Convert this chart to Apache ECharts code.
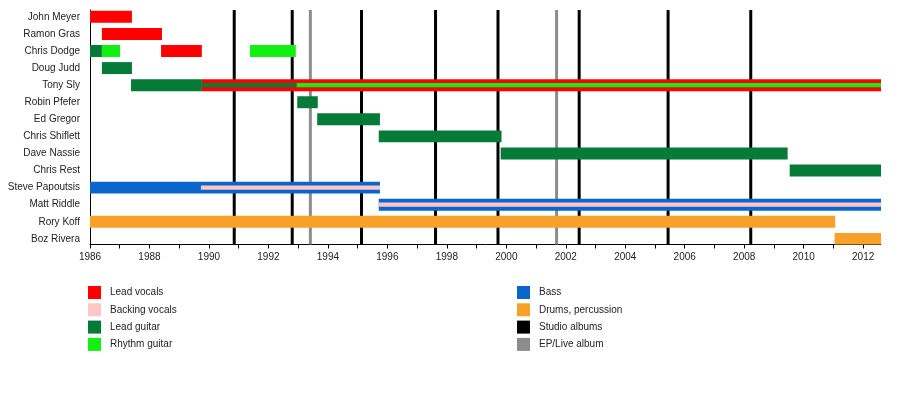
<!DOCTYPE html>
<html><head><meta charset="utf-8">
<script src="https://cdn.jsdelivr.net/npm/echarts@6/dist/echarts.min.js"></script>
<style>html,body{margin:0;padding:0;background:#fff}#c{width:900px;height:394px}</style>
</head><body><div id="c"></div><script>
const members = ['John Meyer','Ramon Gras','Chris Dodge','Doug Judd','Tony Sly','Robin Pfefer','Ed Gregor','Chris Shiflett','Dave Nassie','Chris Rest','Steve Papoutsis','Matt Riddle','Rory Koff','Boz Rivera'];
const leadVocals = [
  ['John Meyer',1986.0,1987.41],
  ['Ramon Gras',1986.40,1988.42],
  ['Chris Dodge',1988.39,1989.76],
  ['Tony Sly',1989.75,2012.6]
];
const backingVocalsStripe = [
  ['Steve Papoutsis',1989.73,1995.75],
  ['Matt Riddle',1995.71,2012.6]
];
const leadGuitar = [
  ['Chris Dodge',1986.0,1986.40],
  ['Doug Judd',1986.40,1987.41],
  ['Tony Sly',1987.38,1989.76],
  ['Robin Pfefer',1992.97,1993.66],
  ['Ed Gregor',1993.64,1995.75],
  ['Chris Shiflett',1995.71,1999.84],
  ['Dave Nassie',1999.81,2009.46],
  ['Chris Rest',2009.53,2012.6]
];
const leadGuitarStripe = [['Tony Sly',1989.75,1992.95]];
const rhythmGuitar = [
  ['Chris Dodge',1986.40,1987.01],
  ['Chris Dodge',1991.38,1992.92]
];
const rhythmGuitarStripe = [['Tony Sly',1992.95,2012.6]];
const bass = [
  ['Steve Papoutsis',1986.0,1995.75],
  ['Matt Riddle',1995.71,2012.6]
];
const drums = [
  ['Rory Koff',1986.0,2011.06],
  ['Boz Rivera',2011.04,2012.6]
];
const studioAlbums = [1990.85,1992.80,1995.13,1997.62,1999.72,2002.45,2005.44,2008.22];
const epLiveAlbums = [1993.41,2001.69];
const yearTicks = [1986,1987,1988,1989,1990,1991,1992,1993,1994,1995,1996,1997,1998,1999,2000,2001,2002,2003,2004,2005,2006,2007,2008,2009,2010,2011,2012];
const yearLabels = [1986,1988,1990,1992,1994,1996,1998,2000,2002,2004,2006,2008,2010,2012];
const rowTicks = [0,1,2,3,4,5,6,7,8,9,10,11,12,13];

const FONT = '"Liberation Sans", Arial, sans-serif';
const COLORS = {
  'Lead vocals':'#ff0000','Backing vocals':'#ffc6c6','Lead guitar':'#067a37','Rhythm guitar':'#12f012',
  'Bass':'#0a66cc','Drums, percussion':'#f8a12a','Studio albums':'#000000','EP/Live album':'#8c8c8c'
};
const toRows = arr => arr.map(d => [members.indexOf(d[0]), d[1], d[2]]);

function barRenderer(frac){
  return function(params, api){
    const row = api.value(0), s = api.value(1), e = api.value(2);
    const p0 = api.coord([s,row]), p1 = api.coord([e,row]);
    const h = api.size([0,1])[1]*frac;
    const cs = params.coordSys;
    const rect = echarts.graphic.clipRectByRect({x:p0[0], y:p0[1]-h/2, width:p1[0]-p0[0], height:h},
      {x:cs.x, y:cs.y, width:cs.width, height:cs.height});
    if(!rect) return;
    return {type:'rect', shape:rect, style:{fill:api.visual('color')}};
  };
}
function lineRenderer(params, api){
  const x = api.coord([api.value(0), 0])[0];
  const cs = params.coordSys;
  return {type:'line', shape:{x1:x, y1:cs.y, x2:x, y2:cs.y+cs.height}, style:{stroke:api.visual('color'), lineWidth:3}};
}
function barSeries(name, arr, frac, z){
  return {type:'custom', name, z, renderItem:barRenderer(frac), itemStyle:{color:COLORS[name]},
    encode:{x:[1,2], y:0}, data:toRows(arr), silent:true};
}
function lineSeries(name, arr){
  return {type:'custom', name, z:1, renderItem:lineRenderer, itemStyle:{color:COLORS[name]},
    encode:{x:0, y:1}, data:arr.map(v => [v,0]), silent:true};
}

const chart = echarts.init(document.getElementById('c'), null, {renderer:'canvas'});
const legendBase = {orient:'vertical', itemWidth:13, itemHeight:13, itemGap:4.3, icon:'rect', selectedMode:false, padding:0,
  textStyle:{fontSize:10, color:'#222', fontFamily:FONT, padding:[0,0,0,4]}};
chart.setOption({
  animation:false,
  backgroundColor:'#ffffff',
  textStyle:{fontFamily:FONT},
  grid:{left:90, right:19, top:10, bottom:149.5, containLabel:false, outerBoundsMode:'none'},
  xAxis:{type:'value', min:1986, max:2012.6,
    axisLine:{onZero:false, lineStyle:{color:'#000', width:1}},
    axisTick:{show:true, length:4, customValues:yearTicks, lineStyle:{color:'#000'}},
    axisLabel:{customValues:yearLabels, formatter:v => String(v), fontSize:10, color:'#222', margin:8, fontFamily:FONT},
    splitLine:{show:false}},
  yAxis:{type:'value', inverse:true, min:-0.4, max:13.33,
    axisLine:{show:true, onZero:false, lineStyle:{color:'#000', width:1}},
    axisTick:{show:false},
    axisLabel:{customValues:rowTicks, formatter:v => members[v] || '', fontSize:10, color:'#222', margin:10, fontFamily:FONT},
    splitLine:{show:false}},
  legend:[
    Object.assign({left:88, top:286, data:['Lead vocals','Backing vocals','Lead guitar','Rhythm guitar']}, legendBase),
    Object.assign({left:517, top:286, data:['Bass','Drums, percussion','Studio albums','EP/Live album']}, legendBase)
  ],
  series:[
    lineSeries('Studio albums', studioAlbums),
    lineSeries('EP/Live album', epLiveAlbums),
    barSeries('Lead vocals', leadVocals, 0.7, 2),
    barSeries('Lead guitar', leadGuitar, 0.7, 2),
    barSeries('Rhythm guitar', rhythmGuitar, 0.7, 2),
    barSeries('Bass', bass, 0.7, 2),
    barSeries('Drums, percussion', drums, 0.7, 2),
    barSeries('Backing vocals', backingVocalsStripe, 0.25, 3),
    barSeries('Lead guitar', leadGuitarStripe, 0.25, 3),
    barSeries('Rhythm guitar', rhythmGuitarStripe, 0.25, 3)
  ]
});
</script></body></html>
